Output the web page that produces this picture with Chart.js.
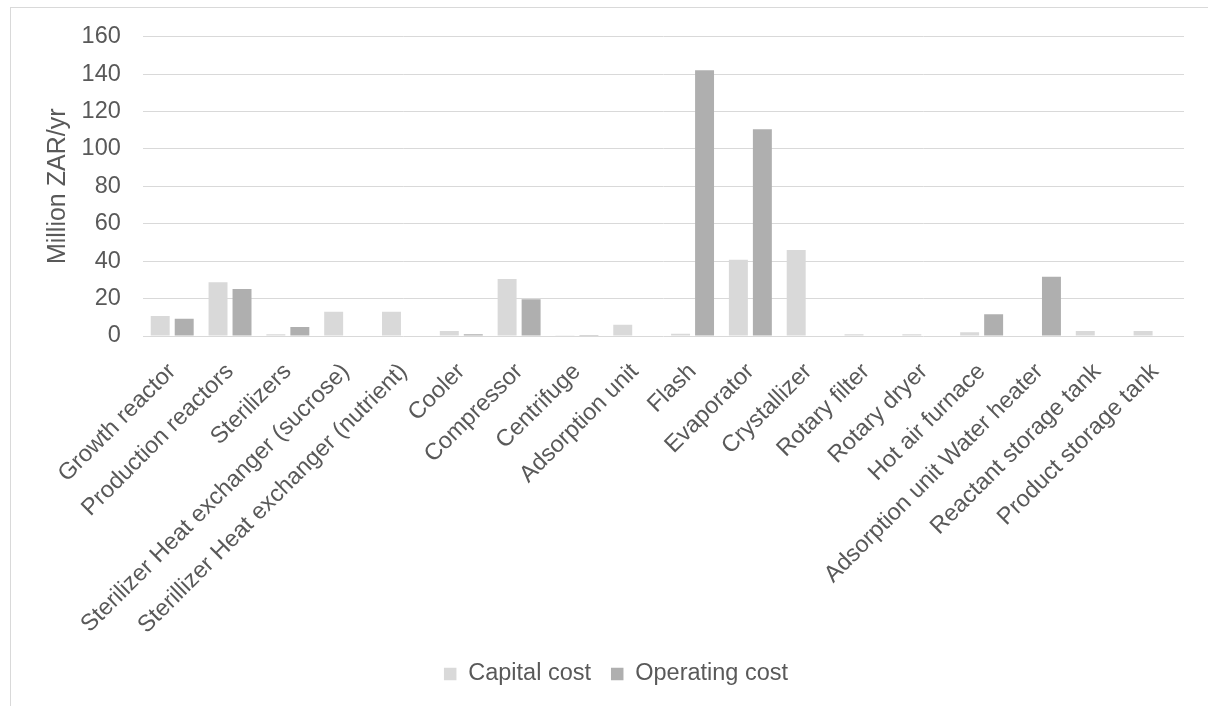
<!DOCTYPE html>
<html>
<head>
<meta charset="utf-8">
<script src="https://cdn.jsdelivr.net/npm/chart.js@4/dist/chart.umd.min.js"></script>
<style>
  html, body { margin: 0; padding: 0; background: #fff; overflow: hidden; }
  #frame {
    position: absolute; left: 10px; top: 7px; width: 1400px; height: 900px;
    border: 1px solid #d9d9d9; box-sizing: border-box;
  }
  #wrap { position: absolute; left: 0; top: 0; width: 1208px; height: 706px; }
</style>
</head>
<body>
<div id="frame"></div>
<div id="wrap"><canvas id="costChart"></canvas></div>
<script>
  const units = [
    "Growth reactor",
    "Production reactors",
    "Sterilizers",
    "Sterilizer Heat exchanger (sucrose)",
    "Sterillizer Heat exchanger (nutrient)",
    "Cooler",
    "Compressor",
    "Centrifuge",
    "Adsorption unit",
    "Flash",
    "Evaporator",
    "Crystallizer",
    "Rotary filter",
    "Rotary dryer",
    "Hot air furnace",
    "Adsorption unit Water heater",
    "Reactant storage tank",
    "Product storage tank",
  ];

  // Million ZAR/yr
  const capitalCost = [10.7, 28.7, 0.9, 13.0, 13.0, 2.7, 30.4, 0.4, 6.0, 1.2, 40.8, 45.9, 0.9, 0.9, 2.0, 0, 2.7, 2.7];
  const operatingCost = [9.2, 25.1, 4.8, 0, 0, 0.9, 19.6, 0.5, 0, 142, 110.5, 0.3, 0, 0, 11.6, 31.7, 0, 0];

  const yTicks = [0, 20, 40, 60, 80, 100, 120, 140, 160];

  const fontFamily = "'Liberation Sans', Arial, sans-serif";
  const textColor = '#595959';

  let ctx = document.getElementById('costChart').getContext('2d');

  let chart = new Chart(ctx, {
    type: 'bar',
    data: {
      labels: units,
      datasets: [
        {
          label: 'Capital cost',
          data: capitalCost,
          backgroundColor: '#d9d9d9',
          categoryPercentage: 0.83,
          barPercentage: 0.79,
        },
        {
          label: 'Operating cost',
          data: operatingCost,
          backgroundColor: '#afafaf',
          categoryPercentage: 0.83,
          barPercentage: 0.79,
        },
      ],
    },
    options: {
      responsive: true,
      maintainAspectRatio: false,
      animation: false,
      layout: {
        padding: { left: 48, right: 24, top: 36.5, bottom: 10.25 },
      },
      plugins: {
        tooltip: { enabled: false },
        legend: {
          position: 'bottom',
          labels: {
            color: textColor,
            boxWidth: 12.5,
            boxHeight: 12.5,
            padding: 20,
            font: { family: fontFamily, size: 23.5 },
          },
        },
      },
      scales: {
        x: {
          grid: { display: false },
          border: { display: false },
          ticks: {
            color: textColor,
            minRotation: 45,
            maxRotation: 45,
            autoSkip: false,
            padding: 14,
            font: { family: fontFamily, size: 23.5 },
          },
          // fixed height keeps the plot bottom where the legend allows
          afterFit(scale) {
            scale.height = 306.25;
          },
        },
        y: {
          min: 0,
          max: 160,
          afterBuildTicks(scale) {
            scale.ticks = yTicks.map(v => ({ value: v }));
          },
          grid: { color: '#d9d9d9', lineWidth: 1, drawTicks: false },
          border: { display: false },
          ticks: {
            color: textColor,
            padding: 22.5,
            font: { family: fontFamily, size: 23.5 },
          },
          title: {
            display: true,
            text: 'Million ZAR/yr',
            color: textColor,
            padding: 0,
            font: { family: fontFamily, size: 25, lineHeight: 0.8 },
          },
          afterFit(scale) {
            scale.width = 95.3;
          },
        },
      },
    },
  });
</script>
</body>
</html>
